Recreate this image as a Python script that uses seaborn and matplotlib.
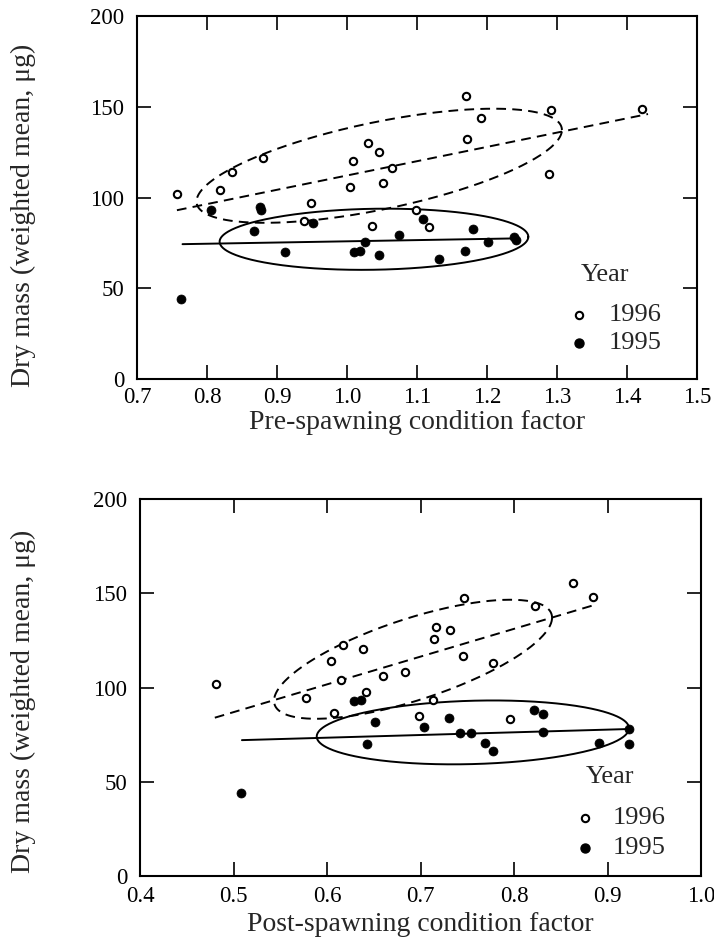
import numpy as np
import pandas as pd
import matplotlib
matplotlib.use("Agg")
import matplotlib.pyplot as plt
import seaborn as sns

# ---------------- data ----------------
pre_1996_x = [0.757, 0.818, 0.835, 0.880, 0.938, 0.948, 1.004, 1.008, 1.030, 1.035, 1.046,
              1.052, 1.064, 1.099, 1.117, 1.170, 1.171, 1.192, 1.288, 1.292, 1.422]
pre_1996_y = [102, 104, 114, 122, 87, 97, 106, 120, 130, 84.5, 125,
              108, 116, 93, 84, 156, 132, 144, 113, 148, 149]
pre_1995_x = [0.763, 0.806, 0.867, 0.875, 0.877, 0.911, 0.952, 1.010, 1.019, 1.025,
              1.046, 1.074, 1.108, 1.132, 1.168, 1.180, 1.202, 1.239, 1.241]
pre_1995_y = [44.3, 93, 81.7, 95, 93, 70, 86, 69.8, 70.7, 75.7,
              68.6, 79.3, 88, 66, 70.5, 82.8, 75.7, 78, 76.5]

post_1996_x = [0.481, 0.578, 0.604, 0.607, 0.615, 0.617, 0.638, 0.642, 0.660, 0.683, 0.698,
               0.713, 0.714, 0.717, 0.732, 0.745, 0.747, 0.777, 0.796, 0.822, 0.863, 0.884]
post_1996_y = [102, 94.7, 114, 86.6, 104, 122.6, 120.4, 97.4, 106, 108.4, 84.9,
               93.4, 125.6, 132, 130.4, 116.7, 147.6, 113.1, 83.1, 143.3, 155.6, 148.1]
post_1995_x = [0.508, 0.629, 0.636, 0.643, 0.651, 0.704, 0.730, 0.742, 0.754, 0.769,
               0.777, 0.821, 0.831, 0.831, 0.891, 0.923, 0.923]
post_1995_y = [43.9, 93, 93.4, 70, 81.7, 79, 83.8, 75.7, 75.7, 70.7,
               66.5, 88, 86, 76.2, 70.7, 78, 70]

# fitted lines (end points)
pre_fit_1996_x = [0.757, 1.43]
pre_fit_1996_y = [93, 146]
pre_fit_1995_x = [0.765, 1.245]
pre_fit_1995_y = [74.3, 77.5]
post_fit_1996_x = [0.480, 0.886]
post_fit_1996_y = [84, 143.8]
post_fit_1995_x = [0.509, 0.923]
post_fit_1995_y = [72.1, 78]

# ellipses: centre, conjugate half-diameter A, vertical half-diameter B
pre_ell_1996 = [(1.046, 117.5), (0.261, 19.7), (0.0, 24.5)]
pre_ell_1995 = [(1.0385, 77.0), (0.2205, 1.35), (0.0, 16.8)]
post_ell_1996 = [(0.692, 115.0), (0.1487, 22.05), (0.0, 22.6)]
post_ell_1995 = [(0.756, 76.2), (0.167, 2.2), (0.0, 16.8)]

years = ["1996", "1995"]
pre_xticks = [0.7, 0.8, 0.9, 1.0, 1.1, 1.2, 1.3, 1.4, 1.5]
post_xticks = [0.4, 0.5, 0.6, 0.7, 0.8, 0.9, 1.0]
yticks = [0, 50, 100, 150, 200]

# ---------------- style ----------------
sns.set_style("ticks")
plt.rcParams['font.family'] = ['Liberation Serif', 'DejaVu Serif']
plt.rcParams['lines.scale_dashes'] = False

DASH = (0, (7, 4.5))
TICK_FS = 16.5
LABEL_FS = 20
LEG_FS = 19
OPEN_S = 28
FILL_S = 42

fig = plt.figure(figsize=(7.14, 9.48), dpi=100)
ax1 = fig.add_axes([0.1919, 0.6002, 0.7843, 0.3829])
ax2 = fig.add_axes([0.1961, 0.0759, 0.7857, 0.3977])


def ellipse(ax, ell, ls):
    (cx, cy), (ax_, ay_), (bx_, by_) = ell
    t = np.linspace(0, 2 * np.pi, 400)
    x = cx + ax_ * np.cos(t) + bx_ * np.sin(t)
    y = cy + ay_ * np.cos(t) + by_ * np.sin(t)
    ax.plot(x, y, color="black", lw=1.4, linestyle=ls)


def panel(ax, x96, y96, x95, y95, f96x, f96y, f95x, f95y, e96, e95,
          xticks, xlabel, ylab, xpad, lpad, leg):
    sns.scatterplot(x=x96, y=y96, ax=ax, marker="o", s=OPEN_S, facecolor="white",
                    edgecolor="black", linewidth=1.5, zorder=3)
    sns.scatterplot(x=x95, y=y95, ax=ax, marker="o", s=FILL_S, color="black",
                    edgecolor="black", linewidth=0.5, zorder=3)
    sns.lineplot(x=f96x, y=f96y, ax=ax, color="black", lw=1.4, linestyle=DASH)
    sns.lineplot(x=f95x, y=f95y, ax=ax, color="black", lw=1.4)
    ellipse(ax, e96, DASH)
    ellipse(ax, e95, "-")

    ax.set_xlim(xticks[0], xticks[-1])
    ax.set_ylim(0, 200)
    ax.set_xticks(xticks)
    ax.set_xticklabels([f"{v:.1f}" for v in xticks])
    ax.set_yticks(yticks)
    ax.set_yticklabels([str(v) for v in yticks])
    ax.tick_params(axis="both", direction="in", length=10, width=1.2,
                   top=True, right=True, labelsize=TICK_FS, colors="black")
    ax.tick_params(axis="x", pad=xpad)
    ax.tick_params(axis="y", pad=9)
    for sp in ax.spines.values():
        sp.set_linewidth(1.5)
        sp.set_color("black")
    ax.set_xlabel(xlabel, fontsize=LABEL_FS, labelpad=lpad)
    ax.set_ylabel("Dry mass (weighted mean, \u03bcg)", fontsize=LABEL_FS)
    ax.yaxis.set_label_coords(*ylab)

    # legend
    (tx, ty), (mx, my1, my2), lx = leg
    ax.text(tx, ty, "Year", transform=ax.transAxes, fontsize=LEG_FS,
            ha="center", va="center")
    ax.scatter([mx], [my1], transform=ax.transAxes, s=OPEN_S, facecolor="white",
               edgecolor="black", linewidth=1.5, clip_on=False)
    ax.scatter([mx], [my2], transform=ax.transAxes, s=FILL_S, color="black",
               clip_on=False)
    ax.text(lx, my1, years[0], transform=ax.transAxes, fontsize=LEG_FS,
            ha="left", va="center")
    ax.text(lx, my2, years[1], transform=ax.transAxes, fontsize=LEG_FS,
            ha="left", va="center")


panel(ax1, pre_1996_x, pre_1996_y, pre_1995_x, pre_1995_y,
      pre_fit_1996_x, pre_fit_1996_y, pre_fit_1995_x, pre_fit_1995_y,
      pre_ell_1996, pre_ell_1995, pre_xticks, "Pre-spawning condition factor",
      (-0.18, 0.45), 6, 1, ((0.835, 0.286), (0.789, 0.176, 0.099), 0.842))
panel(ax2, post_1996_x, post_1996_y, post_1995_x, post_1995_y,
      post_fit_1996_x, post_fit_1996_y, post_fit_1995_x, post_fit_1995_y,
      post_ell_1996, post_ell_1995, post_xticks, "Post-spawning condition factor",
      (-0.185, 0.464), 7.5, 3, ((0.838, 0.262), (0.793, 0.153, 0.074), 0.842))

fig.savefig("out.png", dpi=100, facecolor="white")
